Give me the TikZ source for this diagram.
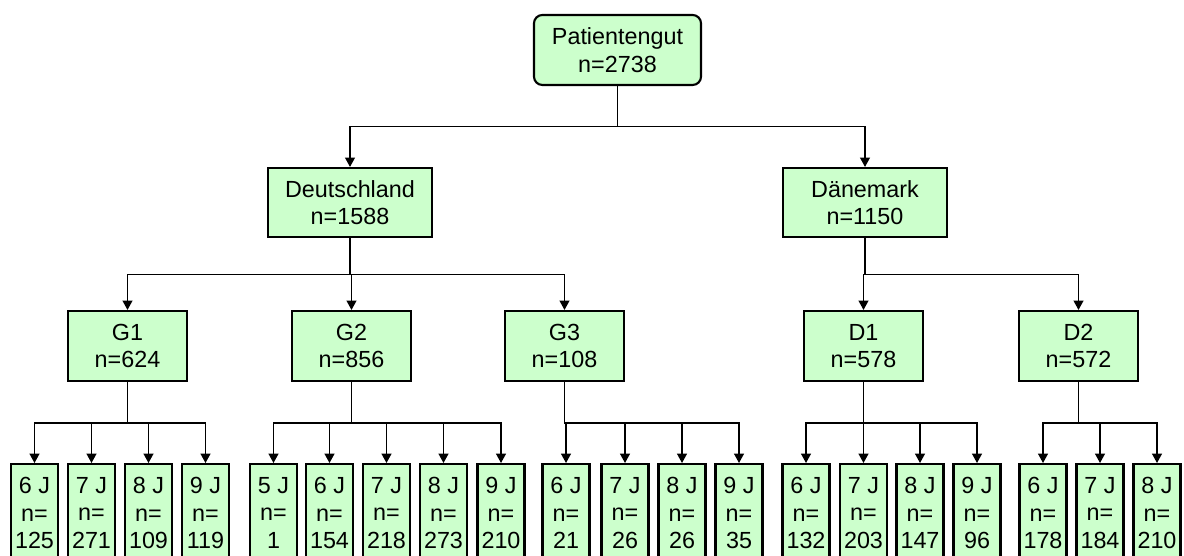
\documentclass[tikz,border=0pt]{standalone}
\usepackage{fontspec}
\setmainfont{Liberation Sans}
\usetikzlibrary{arrows.meta}
\definecolor{boxgreen}{HTML}{CCFFCC}
\tikzset{>={Triangle[length=6.6pt,width=7pt]},
  every node/.style={font=\fontsize{16.6}{19.6}\selectfont},
  conn/.style={->,draw=black,line width=.9pt},
  stem/.style={conn,line width=1.3pt},
  grpbox/.style={draw=black,fill=boxgreen,line width=1.5pt,align=center,inner sep=0pt},
  topbox/.style={grpbox,rounded corners=6pt,minimum width=4.175cm,minimum height=1.75cm},
  landbox/.style={grpbox,minimum width=4.1cm,minimum height=1.725cm},
  subbox/.style={grpbox,minimum width=2.975cm,minimum height=1.75cm},
  agebox/.style={grpbox,anchor=north,minimum width=1.175cm,inner ysep=.33cm}}
\begin{document}
\begin{tikzpicture}[x=0.025cm,y=-0.025cm]
\useasboundingbox (0,0) rectangle (1184,556);
\node[topbox] (root) at (617.5,50) {Patientengut\\n=2738};
\node[landbox] (deu) at (350,202.5) {Deutschland\\n=1588};
\node[landbox] (dan) at (865,202.5) {Dänemark\\n=1150};
\node[subbox] (g1) at (127.5,346) {G1\\n=624};
\node[subbox] (g2) at (351.5,346) {G2\\n=856};
\node[subbox] (g3) at (564.5,346) {G3\\n=108};
\node[subbox] (d1) at (863.5,346) {D1\\n=578};
\node[subbox] (d2) at (1078.5,346) {D2\\n=572};
% Altersgruppen
\node[agebox] (g1j6) at (34.5,463) {6 J\\n=\\125};\node[agebox] (g1j7) at (91.5,463) {7 J\\n=\\271};
\node[agebox] (g1j8) at (148.5,463) {8 J\\n=\\109};\node[agebox] (g1j9) at (205.5,463) {9 J\\n=\\119};
\node[agebox] (g2j5) at (273.5,463) {5 J\\n=\\1};\node[agebox] (g2j6) at (329.5,463) {6 J\\n=\\154};
\node[agebox] (g2j7) at (386.5,463) {7 J\\n=\\218};\node[agebox] (g2j8) at (443.5,463) {8 J\\n=\\273};
\node[agebox] (g2j9) at (501,463) {9 J\\n=\\210};
\node[agebox] (g3j6) at (566,463) {6 J\\n=\\21};\node[agebox] (g3j7) at (625,463) {7 J\\n=\\26};
\node[agebox] (g3j8) at (682,463) {8 J\\n=\\26};\node[agebox] (g3j9) at (739,463) {9 J\\n=\\35};
\node[agebox] (d1j6) at (806,463) {6 J\\n=\\132};\node[agebox] (d1j7) at (863.5,463) {7 J\\n=\\203};
\node[agebox] (d1j8) at (920,463) {8 J\\n=\\147};\node[agebox] (d1j9) at (977,463) {9 J\\n=\\96};
\node[agebox] (d2j6) at (1043,463) {6 J\\n=\\178};\node[agebox] (d2j7) at (1100,463) {7 J\\n=\\184};
\node[agebox] (d2j8) at (1157,463) {8 J\\n=\\210};
% Verbindungen
\draw[conn] (root.south) -- ++(0,40.5) -| (deu.north);\draw[conn] (root.south) -- ++(0,40.5) -| (dan.north);
\draw[conn] (deu.south) -- ++(0,36.5) -| (g1.north);\draw[conn] (deu.south) -- ++(0,36.5) -| (g2.north);
\draw[conn] (deu.south) -- ++(0,36.5) -| (g3.north);
\draw[conn] (dan.south) -- ++(0,36.5) -| (d1.north);\draw[conn] (dan.south) -- ++(0,36.5) -| (d2.north);
\draw[conn] (g1.south) -- ++(0,41) -| (g1j6.north);\draw[conn] (g1.south) -- ++(0,41) -| (g1j7.north);
\draw[conn] (g1.south) -- ++(0,41) -| (g1j8.north);\draw[conn] (g1.south) -- ++(0,41) -| (g1j9.north);
\draw[conn] (g2.south) -- ++(0,41) -| (g2j5.north);\draw[conn] (g2.south) -- ++(0,41) -| (g2j6.north);
\draw[conn] (g2.south) -- ++(0,41) -| (g2j7.north);\draw[conn] (g2.south) -- ++(0,41) -| (g2j8.north);
\draw[conn] (g2.south) -- ++(0,41) -| (g2j9.north);
\draw[conn] (g3.south) -- ++(0,41) -| (g3j6.north);\draw[conn] (g3.south) -- ++(0,41) -| (g3j7.north);
\draw[conn] (g3.south) -- ++(0,41) -| (g3j8.north);\draw[conn] (g3.south) -- ++(0,41) -| (g3j9.north);
\draw[conn] (d1.south) -- ++(0,41) -| (d1j6.north);\draw[conn] (d1.south) -- ++(0,41) -| (d1j7.north);
\draw[conn] (d1.south) -- ++(0,41) -| (d1j8.north);\draw[conn] (d1.south) -- ++(0,41) -| (d1j9.north);
\draw[conn] (d2.south) -- ++(0,41) -| (d2j6.north);\draw[conn] (d2.south) -- ++(0,41) -| (d2j7.north);
\draw[conn] (d2.south) -- ++(0,41) -| (d2j8.north);
\end{tikzpicture}
\end{document}
